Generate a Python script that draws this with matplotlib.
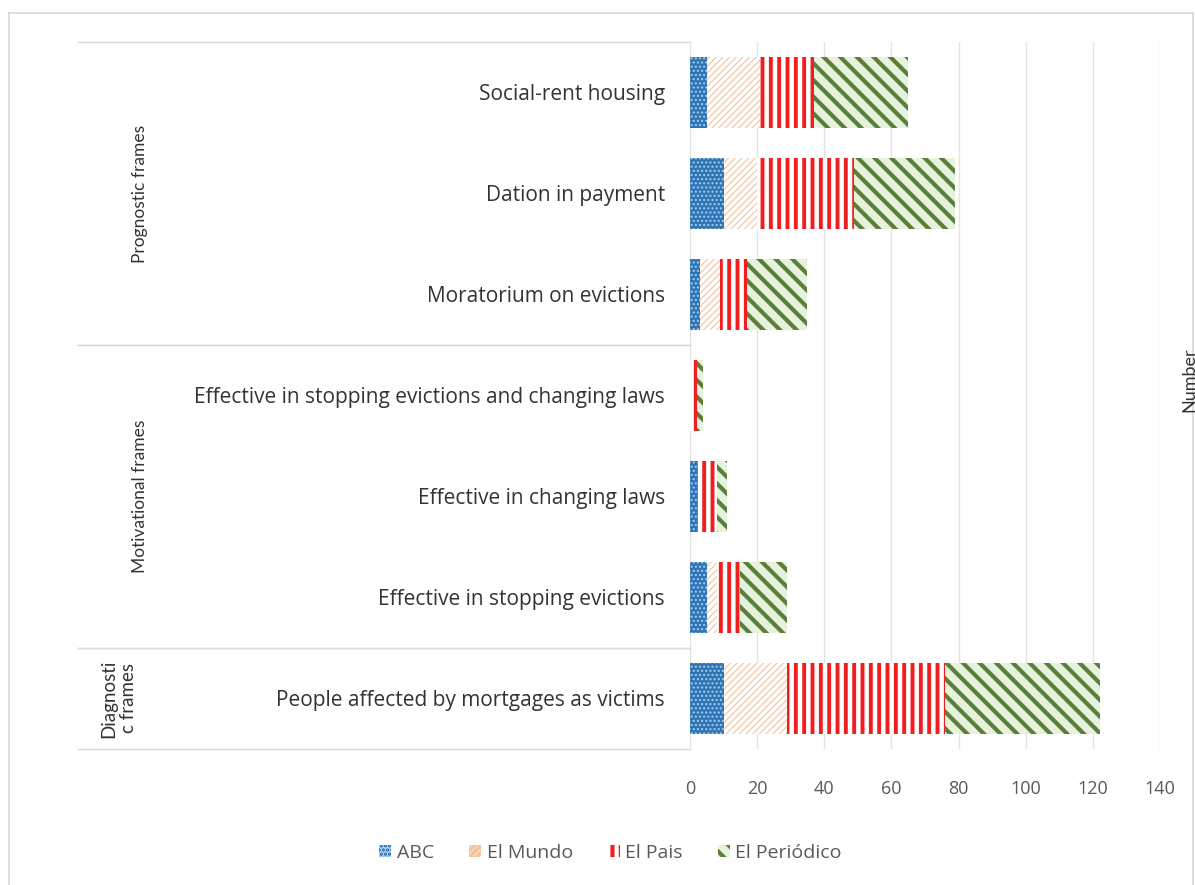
import matplotlib.pyplot as plt
from matplotlib.patches import Patch
from matplotlib.lines import Line2D

# categories, bottom to top
categories = ["People affected by mortgages as victims",
              "Effective in stopping evictions",
              "Effective in changing laws",
              "Effective in stopping evictions and changing laws",
              "Moratorium on evictions",
              "Dation in payment",
              "Social-rent housing"]
abc = [10, 5, 2, 0, 3, 10, 5]
el_mundo = [19, 3, 0, 0, 6, 10, 16]
el_pais = [47, 7, 6, 2, 8, 29, 16]
el_periodico = [46, 14, 3, 2, 18, 30, 28]
series_names = ["ABC", "El Mundo", "El Pais", "El Periódico"]
groups = ["Diagnosti\nc frames", "Motivational frames", "Prognostic frames"]
group_bounds = [(-0.5, 0.5), (0.5, 3.5), (3.5, 6.5)]
xticks = [0, 20, 40, 60, 80, 100, 120, 140]

plt.rcParams['font.family'] = ['Open Sans', 'DejaVu Sans']
txt = '#333333'

fig = plt.figure(figsize=(11.95, 8.85), dpi=100)
ax = fig.add_axes([0.5774, 0.1537, 0.3933, 0.7989])

styles = [dict(fc='#2E75B6', ec='#A9CBEB', hatch='....', hlw=1.0),
          dict(fc='white', ec='#F6C29C', hatch='/////', hlw=0.8),
          dict(fc='white', ec='#F01E1E', hatch='||', hlw=2.8),
          dict(fc='#E6F2DC', ec='#5A7F3A', hatch='\\\\', hlw=3.0)]

y = list(range(len(categories)))
left = [0] * len(categories)
for vals, st in zip([abc, el_mundo, el_pais, el_periodico], styles):
    plt.rcParams['hatch.linewidth'] = st['hlw']
    bars = ax.barh(y, vals, left=left, height=0.7, color=st['fc'],
                   edgecolor=st['ec'], hatch=st['hatch'], linewidth=0, zorder=3)
    for b in bars:
        if hasattr(b, 'set_hatch_linewidth'):
            b.set_hatch_linewidth(st['hlw'])
    left = [l + v for l, v in zip(left, vals)]

ax.set_xlim(0, 140)
ax.set_ylim(-0.5, 6.5)
ax.set_xticks(xticks)
ax.set_yticks(y)
ax.set_yticklabels(categories)
ax.tick_params(axis='y', length=0, pad=18, labelsize=15, labelcolor=txt)
ax.tick_params(axis='x', length=0, pad=22, labelsize=13, labelcolor='#595959')
ax.grid(axis='x', color='#E3E3E3', lw=1, zorder=0)
for s in ax.spines.values():
    s.set_visible(False)

# group separators and labels
tr = ax.get_yaxis_transform()
for lo, hi in group_bounds:
    for yy in (lo, hi):
        ax.add_line(Line2D([-1.302, 0], [yy, yy], transform=tr, color='#DADADA',
                           lw=1, clip_on=False))
for name, (lo, hi) in zip(groups, group_bounds):
    multi = '\n' in name
    ax.text(-1.215 if multi else -1.17, (lo + hi) / 2, name, transform=tr,
            rotation=90, ha='center', va='center', multialignment='center',
            fontsize=13.5 if multi else 12.5, color=txt, linespacing=1.2,
            family=['Lato', 'DejaVu Sans'])

fig.text(1189 / 1195, 1 - 380 / 885, "Number", rotation=90, ha='center', va='center',
         fontsize=13, color=txt, family=['Lato', 'DejaVu Sans'])

handles = [Patch(facecolor=st['fc'], edgecolor=st['ec'], hatch=st['hatch'], linewidth=0)
           for st in styles]
fig.legend(handles, series_names, loc='center', bbox_to_anchor=(0.511, 0.036), ncol=4,
           frameon=False, fontsize=14, labelcolor='#595959', handlelength=0.6,
           handleheight=0.6, handletextpad=0.3, columnspacing=1.8)

# chart border
for xs, ys in [([9, 9], [13, 885]), ([9, 1193], [13, 13]), ([1193, 1193], [13, 885])]:
    fig.add_artist(Line2D([x / 1195 for x in xs], [1 - v / 885 for v in ys],
                          color='#D9D9D9', lw=1.2))

plt.savefig('out.png', dpi=100)
